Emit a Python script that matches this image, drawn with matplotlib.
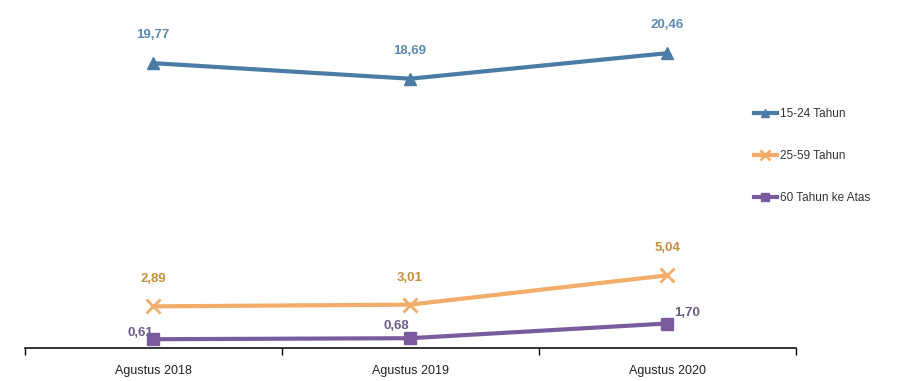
import matplotlib.pyplot as plt

# data
categories = ["Agustus 2018", "Agustus 2019", "Agustus 2020"]
series_names = ["15-24 Tahun", "25-59 Tahun", "60 Tahun ke Atas"]
usia_15_24 = [19.77, 18.69, 20.46]
usia_25_59 = [2.89, 3.01, 5.04]
usia_60 = [0.61, 0.68, 1.70]

plt.rcParams["font.family"] = ["Liberation Sans", "DejaVu Sans"]

fig = plt.figure(figsize=(9.15, 3.81), dpi=100)
ax = fig.add_axes([0.0268, 0.0866, 0.8426, 0.832])

x = list(range(len(categories)))

ax.plot(x, usia_15_24, color="#4a7ca6", lw=3, marker="^", ms=9,
        label=series_names[0])
ax.plot(x, usia_25_59, color="#f2ad6a", lw=3, marker="x", ms=10, mew=2,
        label=series_names[1])
ax.plot(x, usia_60, color="#7a5c9e", lw=3, marker="s", ms=9,
        label=series_names[2])

def fmt(v):
    return f"{v:.2f}".replace(".", ",")

# value labels
for i, v in enumerate(usia_15_24):
    ax.annotate(fmt(v), (i, v), xytext=(0, 28), textcoords="offset pixels",
                ha="center", va="center", fontsize=9.5, fontweight="bold",
                color="#5b8bb3")
for i, v in enumerate(usia_25_59):
    ax.annotate(fmt(v), (i, v), xytext=(0, 27), textcoords="offset pixels",
                ha="center", va="center", fontsize=9.5, fontweight="bold",
                color="#c8903a")
offs = [(-13, 6), (-14, 12), (20, 11)]
for i, v in enumerate(usia_60):
    ax.annotate(fmt(v), (i, v), xytext=offs[i], textcoords="offset pixels",
                ha="center", va="center", fontsize=9.5, fontweight="bold",
                color="#6b5b8c")

ax.set_xlim(-0.5, 2.5)
ax.set_ylim(0, 22)
ax.set_xticks(x)
ax.set_xticklabels(categories, fontsize=9, color="#222222")
ax.set_xticks([-0.5, 0.5, 1.5, 2.5], minor=True)
ax.tick_params(axis="x", which="major", length=0, pad=12)
ax.tick_params(axis="x", which="minor", length=5, width=1, direction="out")
ax.set_yticks([])

for s in ["left", "top", "right"]:
    ax.spines[s].set_visible(False)
ax.spines["bottom"].set_color("#111111")
ax.spines["bottom"].set_linewidth(1.2)

fig.legend(loc="upper left", bbox_to_anchor=(0.812, 0.745), frameon=False,
           fontsize=8.5, handlelength=2.0, handletextpad=0.2,
           labelspacing=2.55, labelcolor="#333333", markerscale=0.7)

plt.savefig("out.png", dpi=100)
plt.close()
